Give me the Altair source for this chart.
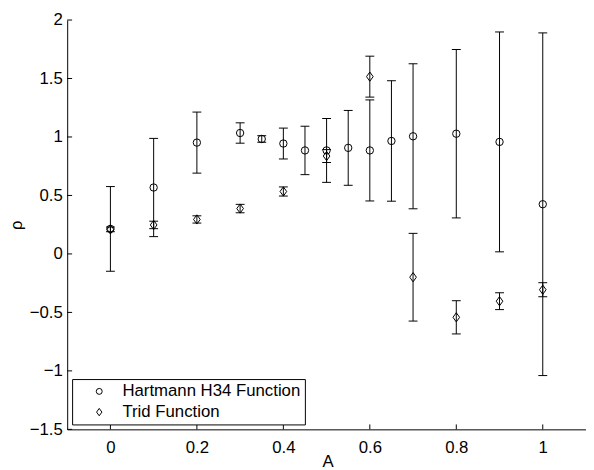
import altair as alt
import pandas as pd

# Hartmann H34 Function (circles)
h_x = [0, 0.1, 0.2, 0.3, 0.35, 0.4, 0.45, 0.5, 0.55, 0.6, 0.65, 0.7, 0.8, 0.9, 1.0]
h_y = [0.214, 0.568, 0.952, 1.034, 0.983, 0.944, 0.885, 0.885, 0.907, 0.885, 0.966, 1.006, 1.028, 0.958, 0.425]
h_err = [0.362, 0.42, 0.261, 0.087, 0.028, 0.132, 0.207, 0.273, 0.32, 0.432, 0.515, 0.62, 0.72, 0.94, 1.465]

# Trid Function (diamonds)
t_x = [0, 0.1, 0.2, 0.3, 0.4, 0.5, 0.6, 0.7, 0.8, 0.9, 1.0]
t_y = [0.21, 0.248, 0.295, 0.388, 0.534, 0.837, 1.516, -0.199, -0.542, -0.404, -0.306]
t_err = [0.02, 0.032, 0.031, 0.036, 0.039, 0.055, 0.175, 0.375, 0.142, 0.072, 0.06]

series_names = ["Hartmann H34 Function", "Trid Function"]
x_ticks = [0, 0.2, 0.4, 0.6, 0.8, 1.0]
y_ticks = [-1.5, -1, -0.5, 0, 0.5, 1, 1.5, 2]

rows = []
for name, xs, ys, es in [(series_names[0], h_x, h_y, h_err), (series_names[1], t_x, t_y, t_err)]:
    for x, y, e in zip(xs, ys, es):
        rows.append({"series": name, "A": x, "rho": y, "lo": y - e, "hi": y + e})
df = pd.DataFrame(rows)

FONT = "Liberation Sans"
DIAMOND = "M0,-1.25L0.9,0L0,1.25L-0.9,0Z"

xscale = alt.Scale(domain=[-0.1, 1.1], nice=False, zero=False)
yscale = alt.Scale(domain=[-1.5, 2], nice=False, zero=False)

xaxis = alt.Axis(
    values=x_ticks, format="~g", title="A", ticks=False, grid=False,
    domainColor="black", labelColor="black", labelFont=FONT, labelFontSize=17,
    labelPadding=10, titleFont=FONT, titleFontSize=17, titleFontWeight="normal",
    titleColor="black", titleX=264, titleY=38, titleBaseline="alphabetic",
)
yaxis = alt.Axis(
    values=y_ticks, format="~g", title="ρ", ticks=False, grid=False,
    domainColor="black", labelColor="black", labelFont=FONT, labelFontSize=17,
    labelPadding=5, titleFont=FONT, titleFontSize=17, titleFontWeight="normal",
    titleColor="black", titleX=-46, titleY=207.5, titleBaseline="alphabetic",
    titleAngle=270,
)

base = alt.Chart(df)

bars = base.mark_rule(color="black", strokeWidth=1).encode(
    x=alt.X("A:Q", scale=xscale, axis=xaxis, title="A"),
    y=alt.Y("lo:Q", scale=yscale, axis=yaxis, title="ρ"),
    y2="hi:Q",
)
cap_lo = base.mark_tick(orient="horizontal", size=9, thickness=1, color="black", opacity=1).encode(
    x=alt.X("A:Q", scale=xscale, title="A"),
    y=alt.Y("lo:Q", scale=yscale, title="ρ"),
)
cap_hi = base.mark_tick(orient="horizontal", size=9, thickness=1, color="black", opacity=1).encode(
    x=alt.X("A:Q", scale=xscale, title="A"),
    y=alt.Y("hi:Q", scale=yscale, title="ρ"),
)
pts = base.mark_point(filled=False, color="black", size=56, strokeWidth=1, opacity=1).encode(
    x=alt.X("A:Q", scale=xscale, title="A"),
    y=alt.Y("rho:Q", scale=yscale, title="ρ"),
    shape=alt.Shape(
        "series:N",
        scale=alt.Scale(domain=series_names, range=["circle", DIAMOND]),
        legend=alt.Legend(
            title=None, orient="none", legendX=5, legendY=364,
            strokeColor="black", fillColor="white", padding=4,
            symbolOffset=15, labelOffset=15, rowPadding=3,
            symbolSize=36, symbolStrokeColor="black", symbolStrokeWidth=1,
            symbolFillColor="transparent", labelLimit=0,
            labelFont=FONT, labelFontSize=17, labelColor="black",
        ),
    ),
)

xt = alt.Chart(pd.DataFrame({"t": x_ticks})).mark_rule(color="black", strokeWidth=1).encode(
    x=alt.X("t:Q", scale=xscale, title="A"),
    y=alt.value(415), y2=alt.value(410),
)
yt = alt.Chart(pd.DataFrame({"t": y_ticks})).mark_rule(color="black", strokeWidth=1).encode(
    y=alt.Y("t:Q", scale=yscale, title="ρ"),
    x=alt.value(0), x2=alt.value(5),
)

chart = alt.layer(bars, cap_lo, cap_hi, pts, xt, yt).properties(
    width=526, height=415,
    autosize=alt.AutoSizeParams(type="none"),
    padding={"left": 60, "top": 9, "right": 0, "bottom": 38},
    background="white",
).configure_view(stroke=None)

chart.save("out.html", embed_options={"renderer": "svg", "actions": False})
